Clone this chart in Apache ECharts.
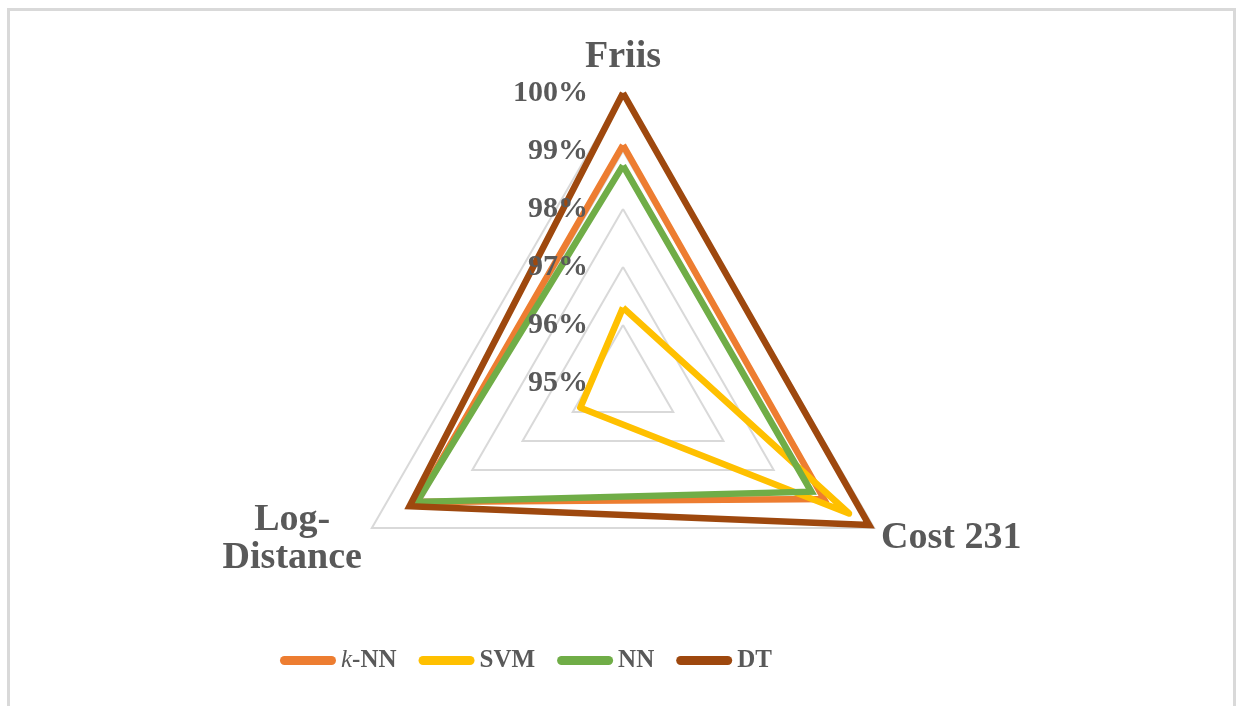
<!DOCTYPE html>
<html>
<head>
<meta charset="utf-8">
<script src="https://cdn.jsdelivr.net/npm/echarts@6/dist/echarts.min.js"></script>
<style>
  html, body { margin: 0; padding: 0; background: #ffffff; }
  #chart { position: absolute; left: 0; top: 0; width: 1236px; height: 706px; }
  #frame {
    position: absolute; left: 7px; top: 8px; width: 1223px; height: 720px;
    border: 3px solid #d9d9d9; pointer-events: none;
  }
</style>
</head>
<body>
<div id="chart"></div>
<div id="frame"></div>
<script>
// Radar axes (ECharts places them counter-clockwise from the top)
const indicators = ['Friis', 'Log-Distance', 'Cost 231'];
const axisMin = 95;
const axisMax = 100;
const tickStep = 1;

// Accuracy (%) per model, in indicator order
const knnValues = [99.1, 99.1, 99.0];
const svmValues = [96.3, 95.85, 99.5];
const nnValues = [98.75, 99.1, 98.75];
const dtValues = [100, 99.25, 99.9];

const seriesNames = ['k-NN', 'SVM', 'NN', 'DT'];
const seriesColors = ['#ED7D31', '#FFC000', '#70AD47', '#9E480E'];
const seriesValues = [knnValues, svmValues, nnValues, dtValues];

const FONT = '"Liberation Serif", "Times New Roman", serif';
const TEXT = '#595959';
const CX = 623, CY = 383, R = 290;

const chart = echarts.init(document.getElementById('chart'), null, { renderer: 'canvas' });

const series = seriesNames.map((name, i) => ({
  type: 'radar',
  name: name,
  symbol: 'none',
  silent: true,
  z: 2 + i,
  itemStyle: { color: seriesColors[i] },
  lineStyle: {
    color: seriesColors[i],
    width: 6.5,
    join: name === 'SVM' ? 'round' : 'miter',
    miterLimit: 2.5
  },
  data: [{ name: name, value: seriesValues[i] }]
}));

// Name styles: small offsets for each spoke's label
const nameBase = { color: TEXT, fontFamily: FONT, fontWeight: 'bold', fontSize: 38, lineHeight: 44, align: 'center' };

const option = {
  backgroundColor: '#ffffff',
  animation: false,
  color: seriesColors,
  radar: {
    center: [CX, CY],
    radius: R,
    shape: 'polygon',
    startAngle: 90,
    splitNumber: (axisMax - axisMin) / tickStep,
    indicator: indicators.map(n => ({ name: n, min: axisMin, max: axisMax })),
    nameGap: 8,
    axisName: {
      color: TEXT,
      fontFamily: FONT,
      fontWeight: 'bold',
      fontSize: 38,
      formatter: function (name) {
        if (name === 'Friis') return '{f|' + name + '}';
        if (name === 'Cost 231') return '{c|' + name + '}';
        const parts = name.split('-');
        return '{l1|' + parts[0] + '-}\n{l2|' + parts[1] + '}';
      },
      rich: {
        f: Object.assign({}, nameBase, { padding: [0, 0, 12, 0] }),
        c: Object.assign({}, nameBase, { padding: [12, 0, 0, 0] }),
        l1: Object.assign({}, nameBase, { padding: [20, 3, 0, 0] }),
        l2: Object.assign({}, nameBase, { padding: [8, 3, 0, 0] })
      }
    },
    axisLine: { show: false },
    axisTick: { show: false },
    axisLabel: { show: false },
    splitArea: { show: false },
    splitLine: { lineStyle: { color: '#d9d9d9', width: 2 } }
  },
  // Percentage scale shown along the Friis spoke
  grid: { left: CX, top: CY - R, width: 1, height: R, containLabel: false },
  xAxis: { type: 'value', show: false },
  yAxis: {
    type: 'value',
    min: axisMin,
    max: axisMax,
    interval: tickStep,
    axisLine: { show: false },
    axisTick: { show: false },
    splitLine: { show: false },
    z: 10,
    axisLabel: {
      margin: 35,
      color: TEXT,
      fontFamily: FONT,
      fontWeight: 'bold',
      fontSize: 30,
      formatter: '{value}%'
    }
  },
  legend: {
    left: 275,
    top: 643,
    orient: 'horizontal',
    itemWidth: 56,
    itemHeight: 9,
    itemGap: 22,
    icon: 'path://M4.5,0H51.5A4.5,4.5,0,0,1,51.5,9H4.5A4.5,4.5,0,0,1,4.5,0Z',
    data: seriesNames,
    selectedMode: false,
    formatter: function (name) {
      if (name === 'k-NN') return '{i|k}{b|-NN}';
      return '{b|' + name + '}';
    },
    textStyle: {
      color: TEXT, fontFamily: FONT, fontWeight: 'bold', fontSize: 25,
      rich: {
        i: { color: TEXT, fontFamily: FONT, fontStyle: 'italic', fontWeight: 'normal', fontSize: 25 },
        b: { color: TEXT, fontFamily: FONT, fontWeight: 'bold', fontSize: 25 }
      }
    }
  },
  series: series
};

chart.setOption(option);
</script>
</body>
</html>
